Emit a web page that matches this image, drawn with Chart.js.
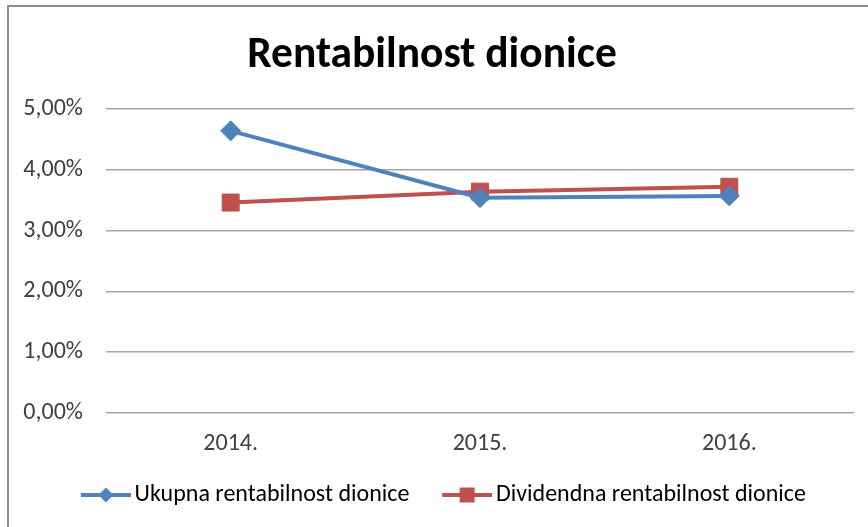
<!DOCTYPE html>
<html>
<head>
<meta charset="utf-8">
<script src="https://cdn.jsdelivr.net/npm/chart.js@4/dist/chart.umd.min.js"></script>
<style>
  html, body { margin: 0; padding: 0; background: #fff; }
  #wrap { width: 868px; height: 527px; }
</style>
</head>
<body>
<div id="wrap"><canvas id="rentChart" width="868" height="527"></canvas></div>
<script>
// podaci
const godine = ['2014.', '2015.', '2016.'];
const ukupna = [4.64, 3.54, 3.57];
const dividendna = [3.46, 3.64, 3.72];
const naziviSerija = ['Ukupna rentabilnost dionice', 'Dividendna rentabilnost dionice'];

const PLAVA = '#4f81bd';
const CRVENA = '#c0504d';
const FONT = 'Carlito, Calibri, Lato, sans-serif';

// sličica za legendu: linija s markerom
function legendIcon(color, shape) {
  const c = document.createElement('canvas');
  c.width = 81; c.height = 20;
  const g = c.getContext('2d');
  const x0 = 31, cx = x0 + 25, cy = 10;
  g.strokeStyle = color; g.lineWidth = 4;
  g.beginPath(); g.moveTo(x0, cy); g.lineTo(x0 + 50, cy); g.stroke();
  g.fillStyle = color;
  g.beginPath();
  if (shape === 'diamond') {
    g.moveTo(cx - 7.5, cy); g.lineTo(cx, cy - 7.5); g.lineTo(cx + 7.5, cy); g.lineTo(cx, cy + 7.5);
  } else {
    g.rect(cx - 7.5, cy - 7.5, 15, 15);
  }
  g.closePath(); g.fill();
  return c;
}
const ikone = [legendIcon(PLAVA, 'diamond'), legendIcon(CRVENA, 'square')];

// okvir grafikona
const okvir = {
  id: 'okvir',
  beforeDraw(chart) {
    const g = chart.ctx;
    g.save();
    g.strokeStyle = '#8c8c8c';
    g.lineWidth = 2;
    g.strokeRect(8, 6, 1000, 1000);
    g.restore();
  }
};

const ctx = document.getElementById('rentChart').getContext('2d');
const rentChart = new Chart(ctx, {
  type: 'line',
  data: {
    labels: godine,
    datasets: [{
      label: naziviSerija[0],
      data: ukupna,
      borderColor: PLAVA,
      backgroundColor: PLAVA,
      borderWidth: 4,
      pointStyle: 'rectRot',
      pointRadius: 10,
      pointHoverRadius: 10,
      pointBorderWidth: 1,
      tension: 0
    }, {
      label: naziviSerija[1],
      data: dividendna,
      borderColor: CRVENA,
      backgroundColor: CRVENA,
      borderWidth: 4,
      pointStyle: 'rect',
      pointRadius: 12,
      pointHoverRadius: 12,
      pointBorderWidth: 1,
      tension: 0
    }]
  },
  plugins: [okvir],
  options: {
    responsive: false,
    animation: false,
    layout: { padding: { left: 10, right: 14, top: 0, bottom: 10 } },
    plugins: {
      title: {
        display: true,
        text: 'Rentabilnost dionice',
        color: '#000',
        font: { family: FONT, size: 43.5, weight: 'bold', lineHeight: 1.2 },
        padding: { top: 30, bottom: 26.8 }
      },
      legend: {
        position: 'bottom',
        align: 'center',
        labels: {
          color: '#1a1a1a',
          font: { family: FONT, size: 24, lineHeight: 1.15 },
          usePointStyle: true,
          pointStyleWidth: 64.5,
          padding: 10,
          generateLabels(chart) {
            return chart.data.datasets.map((ds, i) => ({
              text: ds.label,
              pointStyle: ikone[i],
              fillStyle: ds.borderColor,
              strokeStyle: ds.borderColor,
              lineWidth: 0,
              hidden: false,
              datasetIndex: i
            }));
          }
        }
      },
      tooltip: { enabled: false }
    },
    scales: {
      x: {
        offset: true,
        grid: { display: false, drawTicks: false, offset: true },
        border: { display: false },
        ticks: { color: '#404040', font: { family: FONT, size: 24 }, padding: 17 },
        afterFit(s) { s.height = 60.2; }
      },
      y: {
        min: 0,
        max: 5,
        grid: { color: '#a6a6a6', lineWidth: 1.5, drawTicks: false },
        border: { display: false },
        ticks: {
          stepSize: 1,
          color: '#404040',
          font: { family: FONT, size: 24 },
          padding: 23,
          callback: v => v.toFixed(2).replace('.', ',') + '%'
        },
        afterFit(s) { s.width = 96; }
      }
    }
  }
});
</script>
</body>
</html>
